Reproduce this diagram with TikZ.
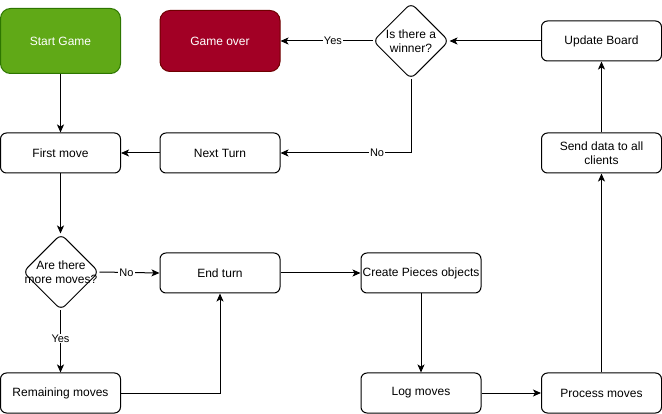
\documentclass[tikz,border=0pt]{standalone}
\usepackage{fontspec}
\setmainfont{Liberation Sans}
\usetikzlibrary{shapes.geometric,arrows.meta,positioning}
\definecolor{gfill}{HTML}{60A917}
\definecolor{gline}{HTML}{2D7600}
\definecolor{rfill}{HTML}{A20025}
\definecolor{rline}{HTML}{6F0000}
\begin{document}
\begin{tikzpicture}[x=1pt,y=-1pt,line width=1pt,
  box/.style={draw=black,rounded corners=6pt,minimum width=120pt,minimum height=40pt,inner sep=0pt,align=center,font=\fontsize{12}{14}\selectfont},
  startbox/.style={box,fill=gfill,draw=gline,text=white,minimum height=65pt,rounded corners=10pt},
  overbox/.style={box,fill=rfill,draw=rline,text=white,minimum height=61pt,rounded corners=10pt},
  decision/.style={draw=black,diamond,minimum width=76pt,minimum height=76pt,inner sep=0pt,rounded corners=6pt},
  dtext/.style={align=center,font=\fontsize{12}{14}\selectfont},
  conn/.style={draw=black,-{Stealth[length=8pt,width=7pt,inset=2pt]}},
  lbl/.style={fill=white,inner sep=1pt,font=\fontsize{11}{13}\selectfont}]
\useasboundingbox (0,0) rectangle (662,414);
% nodes
\node[startbox] (start) at (60.5,41) {Start Game};
\node[overbox] (over) at (220,41) {Game over};
\node[decision] (win) at (411,41) {};
\node[dtext] at (win) {Is there a\\winner?};
\node[box] (update) at (601.5,41) {Update Board};
\node[box] (first) at (60.5,153) {First move};
\node[box] (next) at (220,153) {Next Turn};
\node[box] (send) at (601.5,153) {Send data to all\\clients};
\node[decision] (more) at (61,272) {};
\node[dtext] at (more) {Are there\\more moves?};
\node[box] (end) at (220,273) {End turn};
\node[box] (create) at (421,273) {Create Pieces objects};
\node[box] (remain) at (60.5,393) {Remaining moves};
\node[box] (log) at (421,393) {Log moves};
\node[box] (process) at (601.5,393) {Process moves};
% connectors
\draw[conn] (start.south) -- (first.north);
\draw[conn] (next.west) -- (first.east);
\draw[conn] (win.south) |- node[lbl,pos=0.63] {No} (next.east);
\draw[conn] (win.west) -- node[lbl,pos=0.43] {Yes} (over.east);
\draw[conn] (update.west) -- (win.east);
\draw[conn] (send.north) -- (update.south);
\draw[conn] (process.north) -- (send.south);
\draw[conn] (log.east) -- (process.west);
\draw[conn] (create.south) -- (log.north);
\draw[conn] (end.east) -- (create.west);
\draw[conn] (remain.east) -| (end.south);
\draw[conn] (first.south) -- (first.south |- more.north);
\draw[conn] (more.east) -- node[lbl,pos=0.45] {No} (end.west);
\draw[conn] (more.south -| remain.north) -- node[lbl,pos=0.45] {Yes} (remain.north);
\end{tikzpicture}
\end{document}
